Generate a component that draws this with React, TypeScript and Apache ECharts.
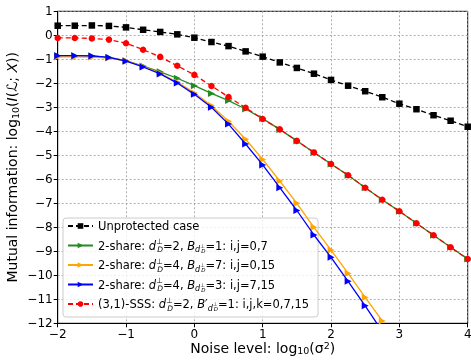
import React, { useEffect, useRef } from "react";
import * as echarts from "echarts";

const xs = [-2, -1.75, -1.5, -1.25, -1, -0.75, -0.5, -0.25, 0, 0.25, 0.5, 0.75, 1, 1.25, 1.5, 1.75, 2, 2.25, 2.5, 2.75, 3, 3.25, 3.5, 3.75, 4];

const unprotected = [0.40, 0.40, 0.41, 0.39, 0.33, 0.23, 0.14, 0.04, -0.10, -0.28, -0.45, -0.67, -0.89, -1.13, -1.36, -1.60, -1.86, -2.10, -2.33, -2.58, -2.85, -3.08, -3.33, -3.56, -3.81];
const share2a = [-0.85, -0.85, -0.86, -0.92, -1.06, -1.28, -1.52, -1.79, -2.10, -2.42, -2.72, -3.07, -3.47, -3.92, -4.40, -4.88, -5.36, -5.83, -6.35, -6.85, -7.33, -7.83, -8.33, -8.83, -9.32];
const share2b = [-0.90, -0.90, -0.91, -0.95, -1.06, -1.30, -1.58, -1.95, -2.40, -2.93, -3.58, -4.33, -5.17, -6.07, -7.00, -8.00, -8.95, -9.92, -10.92, -11.90];
const share2c = [-0.85, -0.85, -0.86, -0.92, -1.08, -1.32, -1.61, -1.99, -2.46, -3.00, -3.70, -4.53, -5.40, -6.35, -7.30, -8.32, -9.25, -10.25, -11.27, -12.34];
const sss = [-0.11, -0.11, -0.13, -0.18, -0.33, -0.60, -0.90, -1.27, -1.65, -2.11, -2.57, -3.02, -3.49, -3.92, -4.40, -4.88, -5.36, -5.83, -6.35, -6.85, -7.33, -7.83, -8.33, -8.83, -9.32];

const names = ["Unprotected case", "2-share A", "2-share B", "2-share C", "SSS"];
const legendLabels: Record<string, string> = {
  "Unprotected case": "{n|Unprotected case}",
  "2-share A": "{n|2-share: }{it|d}{supw|⊥}{sub|D}{n|=2, }{it|B}{bsub|d}{bsup|⊥}{bsubsub|D}{n|=1: i,j=0,7}",
  "2-share B": "{n|2-share: }{it|d}{supw|⊥}{sub|D}{n|=4, }{it|B}{bsub|d}{bsup|⊥}{bsubsub|D}{n|=7: i,j=0,15}",
  "2-share C": "{n|2-share: }{it|d}{supw|⊥}{sub|D}{n|=4, }{it|B}{bsub|d}{bsup|⊥}{bsubsub|D}{n|=3: i,j=7,15}",
  "SSS": "{n|(3,1)-SSS: }{it|d}{supw|⊥}{sub|D}{n|=2, }{it|B}{n|′}{bsub|d}{bsup|⊥}{bsubsub|D}{n|=1: i,j,k=0,7,15}",
};

const FONT = "DejaVu Sans";
const tri = "path://M0,0L10,5L0,10Z";

function pairs(ys: number[]) {
  return ys.map((y, i) => [xs[i], y]);
}

const fmt = (v: number) => (v < 0 ? "\u2212" + Math.abs(v) : String(v));

export default function App() {
  const ref = useRef<HTMLDivElement>(null);
  useEffect(() => {
    if (!ref.current) return;
    const chart = echarts.init(ref.current, null, { renderer: "svg" });
    const FS = 11.5;
    const rich = {
      n: { fontFamily: FONT, fontSize: FS, color: "#000", lineHeight: 16, verticalAlign: "middle" },
      it: { fontFamily: FONT, fontSize: FS, fontStyle: "italic", color: "#000", lineHeight: 16, verticalAlign: "middle" },
      supw: { fontFamily: FONT, fontSize: 7.5, color: "#000", lineHeight: 9, verticalAlign: "top", width: 1 },
      sub: { fontFamily: FONT, fontSize: 7.5, fontStyle: "italic", color: "#000", lineHeight: 9, verticalAlign: "bottom" },
      bsub: { fontFamily: FONT, fontSize: 8, fontStyle: "italic", color: "#000", lineHeight: 10, verticalAlign: "bottom" },
      bsup: { fontFamily: FONT, fontSize: 5.5, color: "#000", lineHeight: 16, verticalAlign: "middle", width: 1 },
      bsubsub: { fontFamily: FONT, fontSize: 5.5, fontStyle: "italic", color: "#000", lineHeight: 5, verticalAlign: "bottom" },
    };
    const base = (name: string, data: number[][], color: string, symbol: string, size: number, dashed: boolean, z: number) => ({
      name,
      type: "line",
      data,
      symbol,
      symbolSize: size,
      showSymbol: true,
      clip: true,
      z,
      itemStyle: { color },
      lineStyle: { color, width: 1.3, type: dashed ? [5, 3] : "solid" },
    });
    chart.setOption({
      animation: false,
      grid: { left: 57.7, right: 3.3, top: 11.3, bottom: 36.7, show: true, borderColor: "#000", borderWidth: 1, containLabel: false, outerBoundsMode: "none" },
      xAxis: {
        type: "value",
        min: -2,
        max: 4,
        interval: 1,
        name: "Noise level: log{s|10}(σ{p|2})",
        nameLocation: "middle",
        nameGap: 17,
        nameMoveOverlap: false,
        nameTextStyle: {
          fontFamily: FONT,
          fontSize: 14,
          color: "#000",
          lineHeight: 15,
          verticalAlign: "top",
          rich: {
            s: { fontFamily: FONT, fontSize: 9.5, color: "#000", lineHeight: 9, verticalAlign: "bottom" },
            p: { fontFamily: FONT, fontSize: 9.5, color: "#000", lineHeight: 9, verticalAlign: "top" },
          },
        },
        axisLine: { show: true, onZero: false, lineStyle: { color: "#000", width: 1 } },
        axisTick: { show: true, inside: false, length: 4, lineStyle: { color: "#000" } },
        axisLabel: { fontFamily: FONT, fontSize: 12, color: "#000", margin: 5, lineHeight: 12, formatter: fmt },
        splitLine: { show: true, lineStyle: { color: "#999", width: 0.8, type: [2, 2] } },
      },
      yAxis: {
        type: "value",
        min: -12,
        max: 1,
        interval: 1,
        name: "Mutual information: log{s|10}({i|I}({i|ℒ}; {i|X}))",
        nameLocation: "middle",
        nameGap: 37,
        nameMoveOverlap: false,
        nameTextStyle: {
          fontFamily: FONT,
          fontSize: 14,
          color: "#000",
          lineHeight: 18,
          rich: {
            s: { fontFamily: FONT, fontSize: 9.5, color: "#000", lineHeight: 11, verticalAlign: "bottom" },
            i: { fontFamily: FONT, fontSize: 14, fontStyle: "italic", color: "#000", lineHeight: 18, verticalAlign: "middle" },
          },
        },
        axisLine: { show: true, onZero: false, lineStyle: { color: "#000", width: 1 } },
        axisTick: { show: true, inside: false, length: 4, lineStyle: { color: "#000" } },
        axisLabel: { fontFamily: FONT, fontSize: 12, color: "#000", margin: 5, formatter: fmt },
        splitLine: { show: true, lineStyle: { color: "#999", width: 0.8, type: [2, 2] } },
      },
      legend: {
        data: names,
        orient: "vertical",
        left: 63,
        top: 218,
        itemWidth: 25,
        itemHeight: 7,
        itemGap: 3.5,
        padding: [0, 9, 5, 4],
        backgroundColor: "rgba(255,255,255,0.8)",
        borderColor: "#ccc",
        borderWidth: 1,
        borderRadius: 3,
        selectedMode: false,
        formatter: (name: string) => legendLabels[name],
        textStyle: { fontFamily: FONT, fontSize: FS, color: "#000", lineHeight: 16, rich },
      },
      series: [
        base(names[0], pairs(unprotected), "#000000", "rect", 6.5, true, 2),
        base(names[1], pairs(share2a), "#228b22", tri, 7, false, 3),
        base(names[2], pairs(share2b), "#ffa500", tri, 7, false, 4),
        base(names[3], pairs(share2c), "#0000ff", tri, 7, false, 5),
        base(names[4], pairs(sss), "#ff0000", "circle", 6.5, true, 6),
      ],
    });
    return () => chart.dispose();
  }, []);
  return <div ref={ref} style={{ position: "fixed", left: 0, top: 0, width: 471, height: 360 }} />;
}
